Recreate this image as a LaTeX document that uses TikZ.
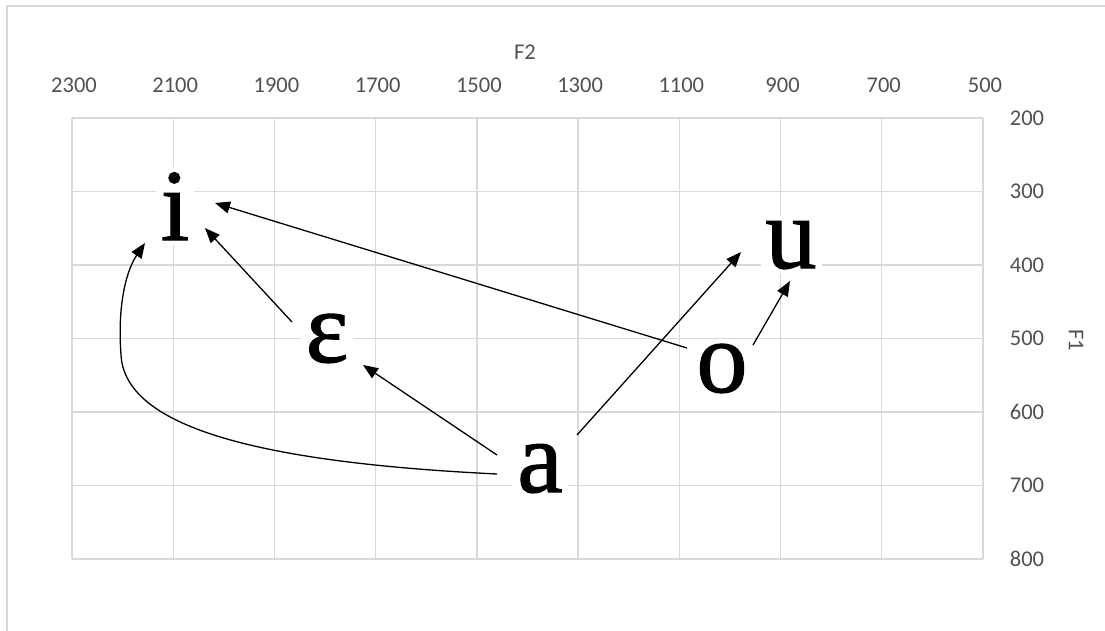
\documentclass[tikz,border=0pt]{standalone}
\usepackage{fontspec}
\setmainfont{Carlito}
\newfontfamily\vowelfont[FakeBold=1.2]{Liberation Serif}
\usetikzlibrary{arrows.meta,calc}
\definecolor{gridgray}{HTML}{D9D9D9}
\definecolor{labgray}{HTML}{505050}
\tikzset{
  gridline/.style={draw=gridgray,line width=1.4pt},
  ticklab/.style={text=labgray,font=\fontsize{22.5}{24}\selectfont,inner sep=0pt},
  vowel/.style={font=\vowelfont\fontsize{102}{110}\selectfont,fill=white,inner sep=5pt,anchor=base},
  arr/.style={line width=1.3pt,-{Triangle[length=15pt,width=12pt]}}
}
\begin{document}
\begin{tikzpicture}[x=1pt,y=-1pt]
\useasboundingbox (0,0) rectangle (1105,630);
% outer frame
\draw[gridgray,line width=1.5pt] (7,640) -- (7,6) -- (1110,6);
% grid
\foreach \i in {0,...,9} {
  \draw[gridline] ({72+\i*101.22},118) -- ({72+\i*101.22},559);
}
\foreach \j in {0,...,6} {
  \draw[gridline] (72,{118+\j*73.5}) -- (983,{118+\j*73.5});
}
% top tick labels
\foreach \v [count=\i from 0] in {2300,2100,1900,1700,1500,1300,1100,900,700,500} {
  \node[ticklab] (t\i) at ({74+\i*101.22},85) {\v};
}
% right tick labels
\foreach \v [count=\j from 0] in {200,300,400,500,600,700,800} {
  \node[ticklab] (r\j) at (1027,{118+\j*73.5}) {\v};
}
\node[ticklab] (F2) at (525,52) {F2};
\node[ticklab,rotate=-90] (F1) at (1076,340) {F1};
% vowels
\node[vowel] (i) at (175,240) {i};
\node[vowel] (e) at (327,362) {ε};
\node[vowel] (a) at (540,492) {a};
\node[vowel] (u) at (791,268) {u};
\node[vowel] (o) at (722,392) {o};
% arrows
\draw[arr] ($(o.base)+(-35,-44)$) -- ($(i.base)+(40,-37)$);
\draw[arr] ($(e.base)+(-35,-40)$) -- ($(i.base)+(30,-12)$);
\draw[arr] ($(a.base)+(-43,-37)$) -- ($(e.base)+(36,3)$);
\draw[arr] ($(a.base)+(37,-57)$) -- ($(u.base)+(-50,-16)$);
\draw[arr] ($(o.base)+(31,-47)$) -- ($(u.base)+(-1,13)$);
\coordinate (c1) at ($(a.base)+(-43,-18)$);
\coordinate (c2) at (121,355);
\draw[arr] (c1) .. controls (250,462) and (125,425) .. (c2)
  .. controls (117,300) and (128,268) .. ($(i.base)+(-30,3)$);
\end{tikzpicture}
\end{document}
